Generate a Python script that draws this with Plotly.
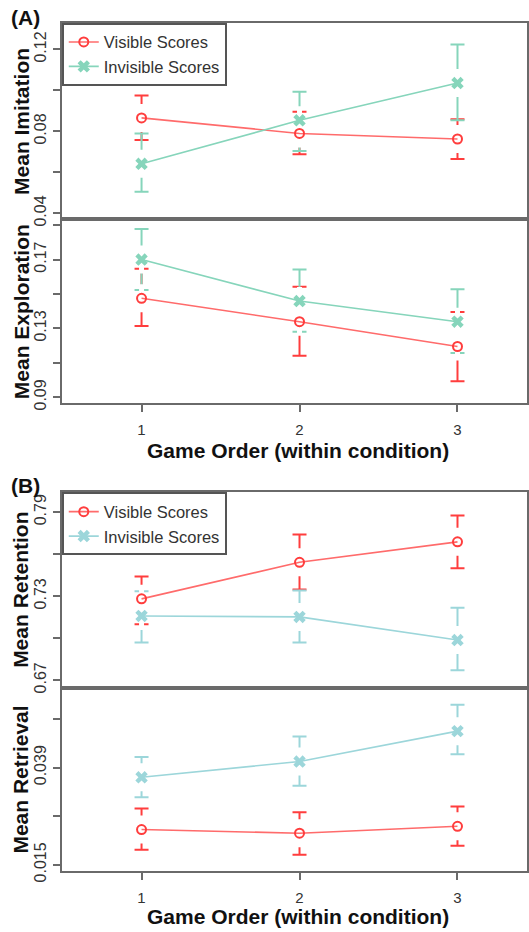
import plotly.graph_objects as go

# ---------------- data ----------------
game_order = [1, 2, 3]
series_names = ["Visible Scores", "Invisible Scores"]

imit_vis_mean = [0.0866, 0.0790, 0.0763]
imit_vis_hi = [0.0975, 0.0896, 0.0859]
imit_vis_lo = [0.0758, 0.0689, 0.0666]
imit_inv_mean = [0.0642, 0.0854, 0.1036]
imit_inv_hi = [0.0790, 0.0994, 0.1224]
imit_inv_lo = [0.0506, 0.0704, 0.0854]

expl_vis_mean = [0.1475, 0.1339, 0.1195]
expl_vis_hi = [0.1646, 0.1542, 0.1395]
expl_vis_lo = [0.1314, 0.1141, 0.0993]
expl_inv_mean = [0.1700, 0.1459, 0.1339]
expl_inv_hi = [0.1877, 0.1642, 0.1527]
expl_inv_lo = [0.1523, 0.1280, 0.1157]

ret_vis_mean = [0.7281, 0.7542, 0.7688]
ret_vis_hi = [0.7441, 0.7740, 0.7876]
ret_vis_lo = [0.7100, 0.7347, 0.7500]
ret_inv_mean = [0.7159, 0.7152, 0.6987]
ret_inv_hi = [0.7335, 0.7340, 0.7217]
ret_inv_lo = [0.6970, 0.6970, 0.6771]

retr_vis_mean = [0.0237, 0.0228, 0.0245]
retr_vis_hi = [0.0289, 0.0280, 0.0294]
retr_vis_lo = [0.0187, 0.0175, 0.0197]
retr_inv_mean = [0.0366, 0.0405, 0.0480]
retr_inv_hi = [0.0416, 0.0467, 0.0545]
retr_inv_lo = [0.0317, 0.0345, 0.0423]

imit_ticks = [0.04, 0.06, 0.08, 0.10, 0.12]
imit_ticktext = ["0.04", "", "0.08", "", "0.12"]
expl_ticks = [0.09, 0.11, 0.13, 0.15, 0.17, 0.19]
expl_ticktext = ["0.09", "", "0.13", "", "0.17", ""]
ret_ticks = [0.67, 0.70, 0.73, 0.76, 0.79]
ret_ticktext = ["0.67", "", "0.73", "", "0.79"]
retr_ticks = [0.015, 0.027, 0.039, 0.051]
retr_ticktext = ["0.015", "", "0.039", ""]
x_ticks = [1, 2, 3]
x_ticktext = ["1", "2", "3"]

# ---------------- style ----------------
W, H = 529, 932
RED = "#ff3d3d"
RED_LINE = "#ff6b6b"
MINT = "#86d5bb"
LBLUE = "#9cd6da"
AXC = "#6a6a6a"
FONT = "Liberation Sans, Arial, sans-serif"

fig = go.Figure()


def add_panel(xa, ya, means, his, los, colors, line_colors, symbols, legend_name, show_legend):
    # error bars
    for m, hi, lo, c in zip(means, his, los, colors):
        fig.add_trace(go.Scatter(
            x=game_order, y=m, mode="markers",
            marker=dict(size=2, opacity=0),
            error_y=dict(type="data", symmetric=False,
                         array=[h - v for h, v in zip(hi, m)],
                         arrayminus=[v - l for l, v in zip(lo, m)],
                         color=c, thickness=2, width=7),
            xaxis=xa, yaxis=ya, showlegend=False, hoverinfo="skip"))
    # white gaps around the points (plotCI style)
    for m in means:
        fig.add_trace(go.Scatter(
            x=game_order, y=m, mode="markers",
            marker=dict(symbol="line-ns", size=20, line=dict(color="white", width=5)),
            xaxis=xa, yaxis=ya, showlegend=False, hoverinfo="skip"))
    # lines + points
    for m, name, c, lc, s in zip(means, series_names, colors, line_colors, symbols):
        if s == "circle-open":
            mk = dict(symbol=s, size=9, color=c, line=dict(color=c, width=2))
        else:
            mk = dict(symbol=s, size=11, color=c, line=dict(width=0))
        fig.add_trace(go.Scatter(
            x=game_order, y=m, mode="lines+markers", name=name,
            line=dict(color=lc, width=1.6), marker=mk,
            xaxis=xa, yaxis=ya, showlegend=show_legend, legend=legend_name))


add_panel("x", "y", [imit_vis_mean, imit_inv_mean], [imit_vis_hi, imit_inv_hi],
          [imit_vis_lo, imit_inv_lo], [RED, MINT], [RED_LINE, MINT], ["circle-open", "x"], "legend", True)
add_panel("x2", "y2", [expl_vis_mean, expl_inv_mean], [expl_vis_hi, expl_inv_hi],
          [expl_vis_lo, expl_inv_lo], [RED, MINT], [RED_LINE, MINT], ["circle-open", "x"], "legend", False)
add_panel("x3", "y3", [ret_vis_mean, ret_inv_mean], [ret_vis_hi, ret_inv_hi],
          [ret_vis_lo, ret_inv_lo], [RED, LBLUE], [RED_LINE, LBLUE], ["circle-open", "x"], "legend2", True)
add_panel("x4", "y4", [retr_vis_mean, retr_inv_mean], [retr_vis_hi, retr_inv_hi],
          [retr_vis_lo, retr_inv_lo], [RED, LBLUE], [RED_LINE, LBLUE], ["circle-open", "x"], "legend2", False)


def py(px):
    return 1 - px / H


x_dom = [62 / W, 1.0]
x_range = [0.495, 3.44]
doms = {
    "y": [py(222), py(23)],
    "y2": [py(408), py(222)],
    "y3": [py(696), py(498.3)],
    "y4": [py(881.7), py(696)],
}
y_ranges = {
    "y": [0.0371, 0.1330],
    "y2": [0.0866, 0.1933],
    "y3": [0.6646, 0.8041],
    "y4": [0.0134, 0.0587],
}
y_ticks = {
    "y": (imit_ticks, imit_ticktext),
    "y2": (expl_ticks, expl_ticktext),
    "y3": (ret_ticks, ret_ticktext),
    "y4": (retr_ticks, retr_ticktext),
}

layout = dict(
    width=W, height=H, margin=dict(l=0, r=0, t=0, b=0),
    paper_bgcolor="white", plot_bgcolor="white",
    font=dict(family=FONT, color="#222"),
)

for i, yk in enumerate(["y", "y2", "y3", "y4"]):
    xk = "x" if i == 0 else f"x{i+1}"
    yname = "yaxis" if i == 0 else f"yaxis{i+1}"
    xname = "xaxis" if i == 0 else f"xaxis{i+1}"
    show_x = i in (1, 3)
    layout[xname] = dict(
        domain=x_dom, range=x_range, anchor=yk,
        showgrid=False, zeroline=False,
        showline=True, linecolor=AXC, linewidth=2, mirror=True,
        tickmode="array", tickvals=x_ticks, ticktext=x_ticktext,
        ticks="outside" if show_x else "", ticklen=7, tickwidth=1.5, tickcolor=AXC,
        showticklabels=show_x, ticklabelstandoff=5,
        tickfont=dict(size=15, color="#333"),
    )
    tv, tt = y_ticks[yk]
    layout[yname] = dict(
        domain=doms[yk], range=y_ranges[yk], anchor=xk,
        showgrid=False, zeroline=False,
        showline=True, linecolor=AXC, linewidth=2, mirror=True,
        tickmode="array", tickvals=tv, ticktext=tt,
        ticks="outside", ticklen=7, tickwidth=1.5, tickcolor=AXC,
        tickangle=-90, tickfont=dict(size=16, color="#333"),
    )

legend_common = dict(
    xanchor="left", yanchor="top", bgcolor="white",
    bordercolor="#555", borderwidth=2,
    font=dict(size=16.5, color="#333", family=FONT),
    tracegroupgap=0, itemwidth=30,
)
layout["legend"] = dict(x=62 / W, y=py(23), **legend_common)
layout["legend2"] = dict(x=62 / W, y=py(498.3), **legend_common)

fig.update_layout(**layout)

annots = [
    ("(A)", 26, 18, 0, 21),
    ("(B)", 26, 491, 0, 21),
    ("Mean Imitation", 21, 122.5, -90, 21),
    ("Mean Exploration", 21, 315, -90, 21),
    ("Mean Retention", 21, 597, -90, 21),
    ("Mean Retrieval", 21, 789, -90, 21),
    ("Game Order (within condition)", 299, 456, 0, 21),
    ("Game Order (within condition)", 299, 927, 0, 21),
]
for text, x, y, ang, size in annots:
    fig.add_annotation(
        text=f"<b>{text}</b>", x=x / W, y=py(y), xref="paper", yref="paper",
        xanchor="center", yanchor="middle", showarrow=False, textangle=ang,
        font=dict(size=size, color="#111", family=FONT),
    )

fig.write_html("out.html")
